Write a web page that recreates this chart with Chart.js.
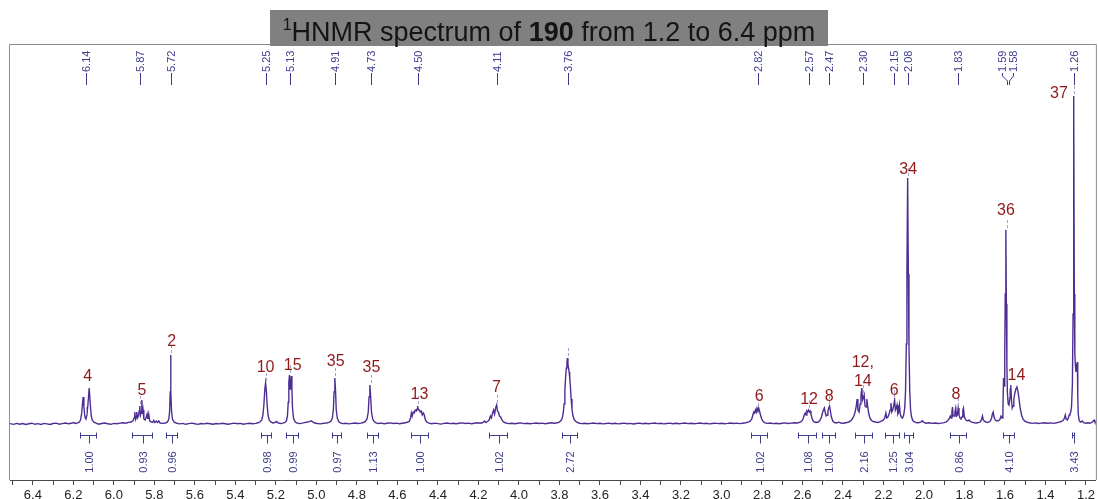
<!DOCTYPE html>
<html>
<head>
<meta charset="utf-8">
<title>1H NMR spectrum of 190</title>
<script src="https://cdn.jsdelivr.net/npm/chart.js@4.4.1/dist/chart.umd.min.js"></script>
<style>
  html, body { margin: 0; padding: 0; background: #fff; overflow: hidden; }
  #wrap { position: relative; width: 1098px; height: 499px; }
  #chart { position: absolute; left: 0; top: 0; }
  #title {
    position: absolute; left: 270px; top: 10px; width: 558px; height: 29px;
    padding-top: 7px; background: #808080; color: #141414;
    font-family: "Liberation Sans", Arial, sans-serif; font-size: 27px; line-height: 30px;
    text-align: center; white-space: nowrap; z-index: 2;
  }
  #title sup { font-size: 16px; line-height: 0; vertical-align: 11px; }
</style>
</head>
<body>
<div id="wrap">
  <canvas id="chart" width="1098" height="499"></canvas>
  <div id="title"><sup>1</sup>HNMR spectrum of <b>190</b> from 1.2 to 6.4 ppm</div>
</div>
<script>
// Recorded trace: [chemical shift (ppm), intensity (a.u.)]
const spectrumTrace = [
  [6.513,0.4],[6.495,-0.4],[6.48,0.6],[6.465,-0.2],[6.45,0.5],[6.435,-0.5],[6.42,0.3],[6.405,0.8],[6.39,-0.3],[6.375,0.4],
  [6.36,-0.4],[6.345,0.6],[6.33,0.1],[6.315,-0.5],[6.30,0.5],[6.285,0.9],[6.27,-0.2],[6.255,0.4],[6.24,1.0],[6.225,0.2],
  [6.21,0.7],[6.20,1.4],[6.19,0.5],[6.178,1.2],[6.170,2],
  [6.165,4],[6.160,9],[6.156,18],[6.152,27],[6.148,17],[6.143,7],[6.138,5],[6.133,9],[6.128,20],[6.122,36],[6.117,21],
  [6.112,8],[6.106,3.5],[6.098,1.8],
  [6.088,0.8],[6.075,-0.2],[6.06,0.5],[6.045,1.0],[6.03,0.3],[6.015,-0.3],[6.00,0.6],[5.985,0.2],[5.97,0.9],[5.955,1.2],
  [5.94,0.8],[5.928,1.6],[5.915,2],[5.905,3.5],
  [5.900,6],[5.897,12],[5.893,5],[5.890,7],[5.887,12],[5.884,6],[5.879,8],[5.875,13],[5.872,18],[5.869,9],[5.865,12],
  [5.862,24],[5.859,10],[5.856,14],[5.852,5],[5.846,4],[5.840,7],[5.836,10],[5.832,5],[5.828,10],[5.823,3],[5.815,2],
  [5.808,1.5],[5.803,3.5],[5.797,1.5],[5.790,3],[5.784,1.5],[5.778,3],[5.772,1],[5.76,0.6],[5.745,1],[5.735,2],
  [5.729,5],[5.725,12],[5.722,32],[5.720,69],[5.718,32],[5.715,12],[5.711,5],[5.703,2],
  [5.69,0.7],[5.675,0.1],[5.66,0.6],[5.645,-0.3],[5.63,0.4],[5.615,0.9],[5.60,0.2],[5.585,-0.4],[5.57,0.5],[5.555,0.1],
  [5.54,0.8],[5.525,0.3],[5.51,-0.3],[5.495,0.5],[5.48,0.1],[5.465,0.7],[5.45,0.2],[5.435,-0.3],[5.42,0.4],[5.405,0.9],
  [5.39,0.2],[5.375,0.6],[5.36,-0.2],[5.345,0.4],[5.33,0.8],[5.315,0.2],[5.30,0.6],[5.288,1.2],[5.278,2.2],
  [5.270,4],[5.264,9],[5.259,20],[5.255,34],[5.251,41],[5.247,33],[5.243,18],[5.238,8],[5.232,3.5],[5.225,2],
  [5.215,1],[5.205,1.5],[5.197,2.6],[5.19,1.2],[5.178,0.5],[5.165,0.9],[5.155,1.6],[5.148,3],
  [5.143,8],[5.139,22],[5.136,42],[5.133,49],[5.130,35],[5.128,38],[5.124,48],[5.121,36],[5.118,16],[5.113,6],
  [5.106,2.5],[5.098,1.2],
  [5.085,0.4],[5.07,0.9],[5.058,1.4],[5.045,2],[5.035,2.4],[5.025,3.2],[5.018,2.2],[5.008,1.0],[4.995,0.5],[4.98,0.1],
  [4.965,0.7],[4.95,1.0],[4.938,1.6],[4.928,3],
  [4.921,6],[4.916,15],[4.913,32],[4.909,46],[4.905,31],[4.902,14],[4.897,6],[4.89,2.5],[4.882,1.2],
  [4.87,0.4],[4.855,0.8],[4.84,0.1],[4.825,0.6],[4.81,1.0],[4.795,0.5],[4.78,0.9],[4.768,1.5],[4.758,2.5],
  [4.750,5],[4.744,12],[4.740,27],[4.736,39],[4.732,27],[4.728,12],[4.722,5],[4.715,2.5],[4.706,1.2],
  [4.695,0.5],[4.68,0.9],[4.665,0.2],[4.65,0.7],[4.635,1.1],[4.62,0.5],[4.605,0.9],[4.59,0.3],[4.575,0.8],[4.56,1.2],
  [4.548,2],[4.54,3],
  [4.535,6],[4.531,11],[4.527,8],[4.522,12],[4.517,11],[4.512,14],[4.507,13],[4.503,15],[4.500,18],[4.497,14],
  [4.492,14],[4.487,12],[4.482,13],[4.477,9],[4.472,11],[4.467,9],[4.462,4],[4.455,2],
  [4.445,0.8],[4.43,0.3],[4.415,0.9],[4.40,0.4],[4.385,-0.1],[4.37,0.6],[4.355,1.0],[4.34,0.4],[4.325,0.8],[4.31,0.2],
  [4.295,0.7],[4.28,1.1],[4.265,0.5],[4.25,0.9],[4.235,0.3],[4.22,0.8],[4.205,1.2],[4.19,0.8],[4.178,1.5],[4.17,3],
  [4.163,1.5],[4.155,2.5],
  [4.147,4],[4.141,8],[4.136,6],[4.130,11],[4.125,14],[4.120,10],[4.115,16],[4.110,19],[4.106,13],[4.101,12],
  [4.096,8],[4.090,7],[4.084,4],[4.076,2],
  [4.065,1.0],[4.05,0.4],[4.035,0.8],[4.02,0.2],[4.005,0.7],[3.99,1.1],[3.975,0.4],[3.96,0.8],[3.945,0.2],[3.93,0.6],
  [3.915,1.0],[3.90,0.5],[3.885,0.9],[3.87,0.3],[3.855,0.8],[3.84,1.2],[3.825,0.7],[3.81,1.2],[3.80,2],[3.792,3.5],
  [3.786,6],[3.781,11],[3.777,20],[3.773,34],[3.769,48],[3.766,56],[3.763,61],[3.7605,66],[3.758,60],[3.755,56],
  [3.752,52],[3.749,46],[3.746,38],[3.742,25],[3.738,15],[3.733,8],[3.726,4],[3.716,2],
  [3.705,1.0],[3.69,0.4],[3.675,0.8],[3.66,0.2],[3.645,0.6],[3.63,1.0],[3.615,0.4],[3.60,0.8],[3.585,0.1],[3.57,0.5],
  [3.555,0.9],[3.54,0.3],[3.525,0.7],[3.51,0.1],[3.495,0.5],[3.48,0.9],[3.465,0.3],[3.45,0.6],[3.435,0.0],[3.42,0.5],
  [3.405,0.9],[3.39,0.3],[3.375,0.7],[3.36,0.2],[3.345,0.6],[3.33,1.0],[3.315,0.4],[3.30,0.7],[3.285,0.1],[3.27,0.5],
  [3.255,0.9],[3.24,0.3],[3.225,0.7],[3.21,0.2],[3.195,0.6],[3.18,1.0],[3.165,0.4],[3.15,0.8],[3.135,0.2],[3.12,0.6],
  [3.105,1.0],[3.09,0.4],[3.075,0.7],[3.06,0.1],[3.045,0.5],[3.03,0.9],[3.015,0.4],[3.00,0.8],[2.985,0.3],[2.97,0.6],
  [2.955,1.0],[2.94,0.5],[2.925,0.9],[2.91,0.4],[2.895,0.8],[2.88,1.2],[2.868,1.8],[2.858,2.8],
  [2.850,5],[2.845,9],[2.840,12],[2.836,11],[2.832,14],[2.828,12],[2.824,16],[2.820,14],[2.816,16],[2.812,13],
  [2.807,9],[2.801,5],[2.794,2.5],[2.785,1.2],
  [2.775,0.6],[2.76,1.0],[2.745,0.4],[2.73,0.8],[2.715,0.3],[2.70,0.7],[2.685,1.1],[2.67,0.5],[2.655,0.9],[2.64,1.3],
  [2.625,1.0],[2.612,1.8],[2.603,3],
  [2.597,5],[2.591,9],[2.586,11],[2.582,9],[2.578,13],[2.574,12],[2.570,14],[2.566,12],[2.562,13],[2.558,10],
  [2.553,6],[2.547,3],[2.54,2],[2.532,1.5],[2.522,2],[2.514,3.5],
  [2.506,7],[2.500,12],[2.496,14],[2.492,16],[2.488,12],[2.483,8],[2.478,9],[2.474,13],[2.470,16],[2.466,18],
  [2.462,13],[2.457,7],[2.450,3],[2.442,1.5],
  [2.432,1.0],[2.42,1.8],[2.41,1.0],[2.398,0.7],[2.385,1.2],[2.372,2],[2.362,3],
  [2.354,5],[2.346,8],[2.340,12],[2.334,18],[2.330,25],[2.326,14],[2.320,12],[2.315,20],[2.311,28],[2.307,36],
  [2.303,24],[2.299,26],[2.295,29],[2.291,18],[2.286,17],[2.282,25],[2.278,18],[2.273,11],[2.267,6],[2.259,3.5],
  [2.250,2.5],[2.240,2],
  [2.228,1.5],[2.218,2.2],[2.208,3.2],
  [2.200,4],[2.194,6],[2.188,11],[2.184,6],[2.178,7],[2.172,10],[2.167,14],[2.163,21],[2.159,12],[2.154,14],
  [2.148,20],[2.145,24],[2.141,14],[2.137,16],[2.133,19],[2.129,10],[2.125,12],[2.121,19],[2.117,10],[2.112,7],
  [2.106,6],[2.100,9],[2.095,16],[2.091,32],[2.087,80],[2.084,150],[2.0805,246],[2.077,150],[2.074,78],[2.070,32],
  [2.066,14],[2.061,7],[2.055,3.5],[2.047,2],
  [2.035,1.2],[2.022,1.5],[2.014,2.2],[2.008,3.2],[2.002,1.8],[1.99,0.8],[1.975,1.2],[1.96,0.6],[1.945,1.0],[1.93,0.5],
  [1.915,0.9],[1.90,1.4],[1.89,2],[1.882,3.5],
  [1.876,5],[1.870,8],[1.866,6],[1.862,12],[1.859,17],[1.856,8],[1.851,8],[1.847,12],[1.843,16],[1.839,8],
  [1.835,9],[1.831,16],[1.827,9],[1.822,6],[1.817,5],[1.812,7],[1.808,14],[1.805,16],[1.801,8],[1.796,5],
  [1.790,3.5],[1.783,3],[1.777,4],[1.771,2.5],[1.763,1.8],
  [1.752,1.3],[1.740,1.0],[1.728,1.6],[1.720,2.5],[1.715,5],[1.711,8],[1.707,4],[1.700,2.5],[1.690,1.5],[1.680,1.8],
  [1.672,3],[1.666,6],[1.662,10],[1.658,12],[1.654,7],[1.648,4],[1.640,3],[1.632,3.5],[1.625,4.5],[1.619,8],
  [1.614,6],[1.610,14],
  [1.607,46],[1.604,38],[1.601,70],[1.5985,130],[1.5955,194],[1.593,120],[1.5905,60],[1.588,32],[1.584,20],[1.580,19],
  [1.576,25],[1.573,35],[1.571,39],[1.568,24],[1.564,16],[1.560,18],[1.556,25],[1.551,31],[1.546,35],[1.541,37],
  [1.536,33],[1.531,26],[1.525,16],[1.518,9],[1.511,5],[1.503,3],[1.493,2],
  [1.48,1.2],[1.465,0.6],[1.45,1.1],[1.435,0.5],[1.42,0.9],[1.405,1.3],[1.39,0.7],[1.375,1.1],[1.36,0.6],[1.345,1.2],
  [1.333,1.8],[1.322,2.5],[1.313,3.5],[1.306,6],[1.302,9],[1.298,5],[1.292,4],[1.287,6],[1.283,9],[1.279,10],
  [1.275,12],[1.271,18],[1.267,40],[1.2635,110],[1.2605,328],[1.2575,130],[1.255,72],[1.2525,60],[1.2495,52],[1.246,58],
  [1.2425,62],[1.2405,28],[1.238,10],[1.234,4],[1.228,2],
  [1.222,2.5],[1.218,3],[1.212,1.4],[1.20,0.8],[1.19,1.2],[1.18,0.7],[1.17,1.8],[1.164,3],[1.160,4],[1.156,2],[1.151,1.2]
];

// Peak-picking labels along the top edge (ppm)
const pickedShifts = [6.14, 5.87, 5.72, 5.25, 5.13, 4.91, 4.73, 4.50, 4.11, 3.76,
                      2.82, 2.57, 2.47, 2.30, 2.15, 2.08, 1.83, 1.59, 1.58, 1.26];

// Proton assignments: text, shift (ppm), label height (a.u.)
const assignText   = ['4', '5', '2', '10', '15', '35', '35', '13', '7', '6', '12', '8', '12,', '14', '6', '34', '8', '36', '14', '37'];
const assignShift  = [6.129, 5.862, 5.714, 5.251, 5.117, 4.905, 4.728, 4.491, 4.111, 2.813,
                      2.567, 2.468, 2.302, 2.302, 2.147, 2.078, 1.842, 1.595, 1.543, 1.333];
const assignHeight = [47, 33, 82, 56, 58, 62, 56, 29, 36, 27, 24, 27, 61, 42, 33, 254, 29, 213, 48, 330];

// Integral regions: start / end shift (ppm) and integrated value
const integralFrom  = [6.168, 5.912, 5.744, 5.275, 5.152, 4.925, 4.752, 4.535, 4.150, 3.785,
                       2.853, 2.621, 2.503, 2.340, 2.192, 2.098, 1.871, 1.610, 1.268];
const integralTo    = [6.089, 5.813, 5.690, 5.226, 5.093, 4.881, 4.698, 4.451, 4.057, 3.714,
                       2.774, 2.532, 2.438, 2.256, 2.123, 2.054, 1.792, 1.555, 1.258];
const integralValue = ['1.00', '0.93', '0.96', '0.98', '0.99', '0.97', '1.13', '1.00', '1.02', '2.72',
                       '1.02', '1.08', '1.00', '2.16', '1.25', '3.04', '0.86', '4.10', '3.43'];

const FONT = "'Liberation Sans', Arial, sans-serif";
const NAVY = '#3d3d8c';
const RED = '#8e1a1a';

const nmrAnnotations = {
  id: 'nmrAnnotations',
  afterDatasetsDraw(chart) {
    const { ctx, chartArea: a, scales: { x, y } } = chart;
    ctx.save();

    // Plot frame (left, top and right edges)
    ctx.strokeStyle = '#8c8c8c';
    ctx.lineWidth = 1;
    ctx.beginPath();
    ctx.moveTo(a.left - 0.5, a.bottom);
    ctx.lineTo(a.left - 0.5, a.top - 0.5);
    ctx.lineTo(a.right + 0.5, a.top - 0.5);
    ctx.lineTo(a.right + 0.5, a.bottom);
    ctx.stroke();

    // Peak-pick labels: spread crowded ones apart and join them back to the peak
    const px = pickedShifts.map(v => x.getPixelForValue(v));
    const order = px.map((p, i) => i).sort((i, j) => px[i] - px[j]);
    const gap = 11;
    const textX = px.slice();
    const groups = [];
    order.forEach(i => {
      const g = groups[groups.length - 1];
      if (g && px[i] - px[g[g.length - 1]] < gap) g.push(i); else groups.push([i]);
    });
    groups.forEach(g => {
      const mean = g.reduce((s, i) => s + px[i], 0) / g.length;
      g.forEach((i, k) => { textX[i] = mean + (k - (g.length - 1) / 2) * gap; });
    });

    const textBottom = a.top + 27;
    ctx.font = `11px ${FONT}`;
    ctx.fillStyle = NAVY;
    ctx.strokeStyle = NAVY;
    ctx.lineWidth = 1;
    pickedShifts.forEach((v, i) => {
      const tx = Math.round(textX[i]) + 0.5;
      const p = Math.round(px[i]) + 0.5;
      ctx.save();
      ctx.translate(tx + 0.5, textBottom);
      ctx.rotate(-Math.PI / 2);
      ctx.textAlign = 'left';
      ctx.textBaseline = 'middle';
      ctx.fillText(v.toFixed(2), 0, 0);
      ctx.restore();
      ctx.beginPath();
      if (Math.abs(tx - p) < 1) {
        ctx.moveTo(p, textBottom + 1);
        ctx.lineTo(p, textBottom + 13);
      } else {
        ctx.moveTo(tx, textBottom + 1);
        ctx.lineTo(tx, textBottom + 4);
        ctx.lineTo(p, textBottom + 9);
        ctx.lineTo(p, textBottom + 13);
      }
      ctx.stroke();

      // short marker just above the picked peak top
      let top = 0;
      spectrumTrace.forEach(([s, h]) => { if (Math.abs(s - v) <= 0.006 && h > top) top = h; });
      const yt = y.getPixelForValue(top);
      ctx.save();
      ctx.strokeStyle = '#a79fd2';
      ctx.setLineDash([3, 2]);
      ctx.beginPath();
      ctx.moveTo(p, yt - 2);
      ctx.lineTo(p, yt - 10);
      ctx.stroke();
      ctx.restore();
    });

    // Assignment numbers
    ctx.font = `16px ${FONT}`;
    ctx.fillStyle = RED;
    ctx.textAlign = 'center';
    ctx.textBaseline = 'middle';
    assignText.forEach((t, i) => {
      ctx.fillText(t, x.getPixelForValue(assignShift[i]), y.getPixelForValue(assignHeight[i]));
    });

    // Integral brackets and values
    const yb = a.bottom - 44.5;
    ctx.strokeStyle = NAVY;
    ctx.fillStyle = NAVY;
    ctx.font = `11px ${FONT}`;
    integralValue.forEach((val, i) => {
      const x1 = Math.round(x.getPixelForValue(integralFrom[i])) + 0.5;
      const x2 = Math.round(x.getPixelForValue(integralTo[i])) + 0.5;
      const xc = Math.round((x1 + x2) / 2) + 0.5;
      ctx.beginPath();
      ctx.moveTo(x1, yb); ctx.lineTo(x2, yb);
      ctx.moveTo(x1, yb - 3); ctx.lineTo(x1, yb + 3);
      ctx.moveTo(x2, yb - 3); ctx.lineTo(x2, yb + 3);
      ctx.moveTo(xc, yb); ctx.lineTo(xc, yb + 8);
      ctx.stroke();
      ctx.save();
      ctx.translate(xc, a.bottom - 18);
      ctx.rotate(-Math.PI / 2);
      ctx.textAlign = 'center';
      ctx.textBaseline = 'middle';
      ctx.fillText(val, 0, 0);
      ctx.restore();
    });

    ctx.restore();
  }
};

new Chart(document.getElementById('chart'), {
  type: 'scatter',
  data: {
    datasets: [{
      data: spectrumTrace.map(([s, h]) => ({ x: s, y: h })),
      showLine: true,
      borderColor: '#4e2d93',
      borderWidth: 1.4,
      pointRadius: 0,
      tension: 0,
      fill: false
    }]
  },
  options: {
    responsive: false,
    animation: false,
    events: [],
    layout: { padding: { top: 45, left: 10, right: 1, bottom: 0 } },
    plugins: { legend: { display: false }, tooltip: { enabled: false }, title: { display: false } },
    scales: {
      x: {
        type: 'linear',
        reverse: true,
        min: 1.151,
        max: 6.513,
        afterFit(scale) { scale.height = 19; },
        border: { display: true, color: '#4a4a4a', width: 1 },
        grid: { display: true, drawOnChartArea: false, drawTicks: true, tickLength: 5, tickColor: '#4a4a4a' },
        ticks: {
          stepSize: 0.1,
          includeBounds: false,
          autoSkip: false,
          maxRotation: 0,
          minRotation: 0,
          padding: 3,
          color: '#222',
          font: { family: FONT, size: 13 },
          callback: v => (Math.round(v * 10) % 2 === 0 ? v.toFixed(1) : '')
        }
      },
      y: { display: false, min: -56, max: 379 }
    }
  },
  plugins: [nmrAnnotations]
});
</script>
</body>
</html>
